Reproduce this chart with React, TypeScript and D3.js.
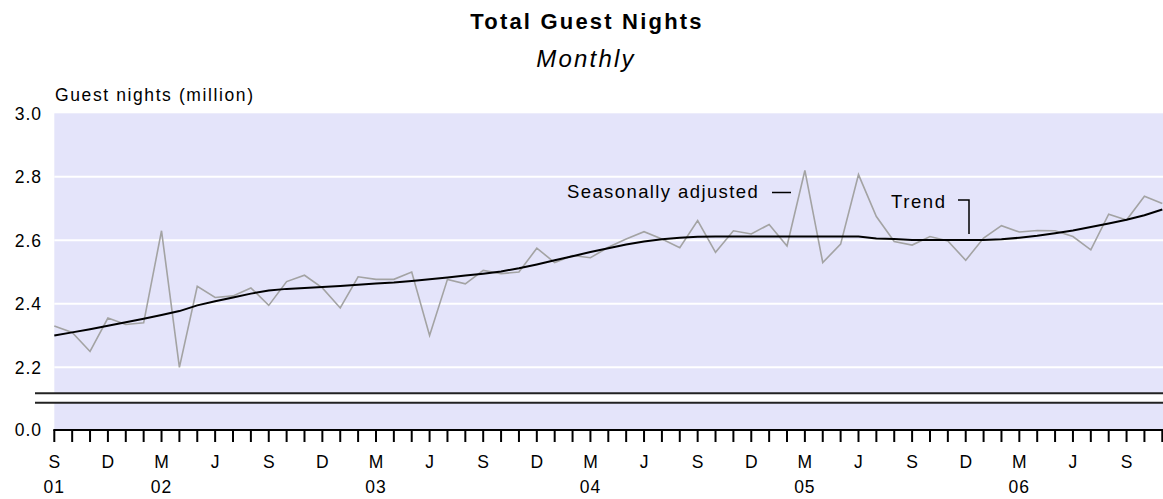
import React from "react";
import * as d3 from "d3";

// Monthly series, Sep 2001 - Nov 2006 (guest nights, million)
const startMonth = new Date(2001, 8, 1);
const months = d3.timeMonths(startMonth, new Date(2006, 11, 1));

const seasonallyAdjusted = [
  2.33, 2.31, 2.25, 2.355, 2.335, 2.34, 2.63, 2.2, 2.455, 2.42, 2.425, 2.45,
  2.395, 2.47, 2.49, 2.45, 2.387, 2.485, 2.477, 2.477, 2.5, 2.3, 2.477, 2.463,
  2.505, 2.495, 2.5, 2.575, 2.53, 2.552, 2.545, 2.578, 2.604, 2.627, 2.604, 2.577,
  2.662, 2.562, 2.63, 2.62, 2.65, 2.582, 2.82, 2.53, 2.588, 2.807, 2.675, 2.596,
  2.585, 2.612, 2.598, 2.537, 2.607, 2.646, 2.626, 2.631, 2.63, 2.612, 2.57, 2.682,
  2.664, 2.739, 2.716,
];

const trend = [
  2.3, 2.31, 2.32, 2.331, 2.342, 2.353, 2.365, 2.377, 2.395, 2.408, 2.42, 2.432,
  2.442, 2.447, 2.45, 2.453, 2.456, 2.46, 2.464, 2.467, 2.472, 2.477, 2.483, 2.489,
  2.495, 2.502, 2.512, 2.524, 2.537, 2.55, 2.563, 2.575, 2.587, 2.596, 2.603, 2.608,
  2.611, 2.612, 2.612, 2.612, 2.612, 2.612, 2.612, 2.612, 2.612, 2.612, 2.606, 2.604,
  2.601, 2.601, 2.601, 2.601, 2.601, 2.603, 2.608, 2.614, 2.622, 2.631, 2.642, 2.653,
  2.665, 2.679, 2.697,
];

const yTicks = [2.2, 2.4, 2.6, 2.8, 3.0];
const gridValues = [2.2, 2.4, 2.6, 2.8];
const monthLetters = ["J", "F", "M", "A", "M", "J", "J", "A", "S", "O", "N", "D"];

const W = 1163;
const H = 499;
const font = "'Liberation Sans', Arial, sans-serif";

export default function App() {
  const left = 54.3;
  const plotTop = 113.3;
  const axisY = 430;
  const x = d3.scaleLinear().domain([0, months.length - 1]).range([left, 1162.3]);
  const y = d3.scaleLinear().domain([2.2, 3.0]).range([367.3, plotTop]);

  const line = d3.line<number>()
    .x((d, i) => x(i))
    .y((d) => y(d));

  // axis break (layout only)
  const break1 = 393.3;
  const break2 = 402.7;

  return (
    <svg width={W} height={H} style={{ position: "absolute", left: 0, top: 0, background: "#fff" }}>
      <text x={587} y={29} textAnchor="middle" fontFamily={font} fontWeight="bold" fontSize={22} letterSpacing={2.2}>
        Total Guest Nights
      </text>
      <text x={586} y={67} textAnchor="middle" fontFamily={font} fontStyle="italic" fontSize={24} letterSpacing={2.2}>
        Monthly
      </text>
      <text x={55} y={101} fontFamily={font} fontSize={17.5} letterSpacing={1.6}>
        Guest nights (million)
      </text>

      {/* plot background */}
      <rect x={left} y={plotTop} width={W - left} height={axisY - plotTop} fill="#e4e4fa" />
      {gridValues.map((v) => (
        <line key={v} x1={left} x2={W} y1={y(v)} y2={y(v)} stroke="#fff" strokeWidth={2} />
      ))}

      <rect x={35} y={break1} width={W - 35} height={break2 - break1} fill="#fff" />
      <line x1={35} x2={W} y1={break1} y2={break1} stroke="#222" strokeWidth={2} />
      <line x1={35} x2={W} y1={break2} y2={break2} stroke="#222" strokeWidth={2} />

      {/* y tick labels */}
      {yTicks.map((v) => (
        <text key={v} x={42} y={y(v)} dy="0.36em" textAnchor="end" fontFamily={font} fontSize={17.5} letterSpacing={1}>
          {v.toFixed(1)}
        </text>
      ))}
      <text x={42} y={axisY} dy="0.36em" textAnchor="end" fontFamily={font} fontSize={17.5} letterSpacing={1}>
        0.0
      </text>

      {/* series */}
      <path d={line(seasonallyAdjusted) || ""} fill="none" stroke="#a3a3a3" strokeWidth={1.6} />
      <path d={line(trend) || ""} fill="none" stroke="#000" strokeWidth={2} />

      {/* series labels */}
      <text x={567} y={198} fontFamily={font} fontSize={18.5} letterSpacing={1.4}>
        Seasonally adjusted
      </text>
      <line x1={772} x2={791} y1={192.5} y2={192.5} stroke="#000" strokeWidth={1.5} />
      <text x={891} y={208} fontFamily={font} fontSize={18.5} letterSpacing={1.6}>
        Trend
      </text>
      <polyline points="958,200 969,200 969,234" fill="none" stroke="#000" strokeWidth={1.5} />

      {/* x axis */}
      <line x1={left - 1} x2={W} y1={axisY} y2={axisY} stroke="#000" strokeWidth={2} />
      {months.map((m, i) => (
        <line key={i} x1={x(i)} x2={x(i)} y1={axisY} y2={axisY + 12} stroke="#000" strokeWidth={2} />
      ))}
      {months.map((m, i) =>
        m.getMonth() % 3 === 2 ? (
          <text key={"m" + i} x={x(i)} y={468} textAnchor="middle" fontFamily={font} fontSize={17.5}>
            {monthLetters[m.getMonth()]}
          </text>
        ) : null
      )}
      {months.map((m, i) =>
        i === 0 || m.getMonth() === 2 ? (
          <text key={"y" + i} x={x(i)} y={493} textAnchor="middle" fontFamily={font} fontSize={17.5} letterSpacing={1}>
            {d3.timeFormat("%y")(m)}
          </text>
        ) : null
      )}
    </svg>
  );
}
